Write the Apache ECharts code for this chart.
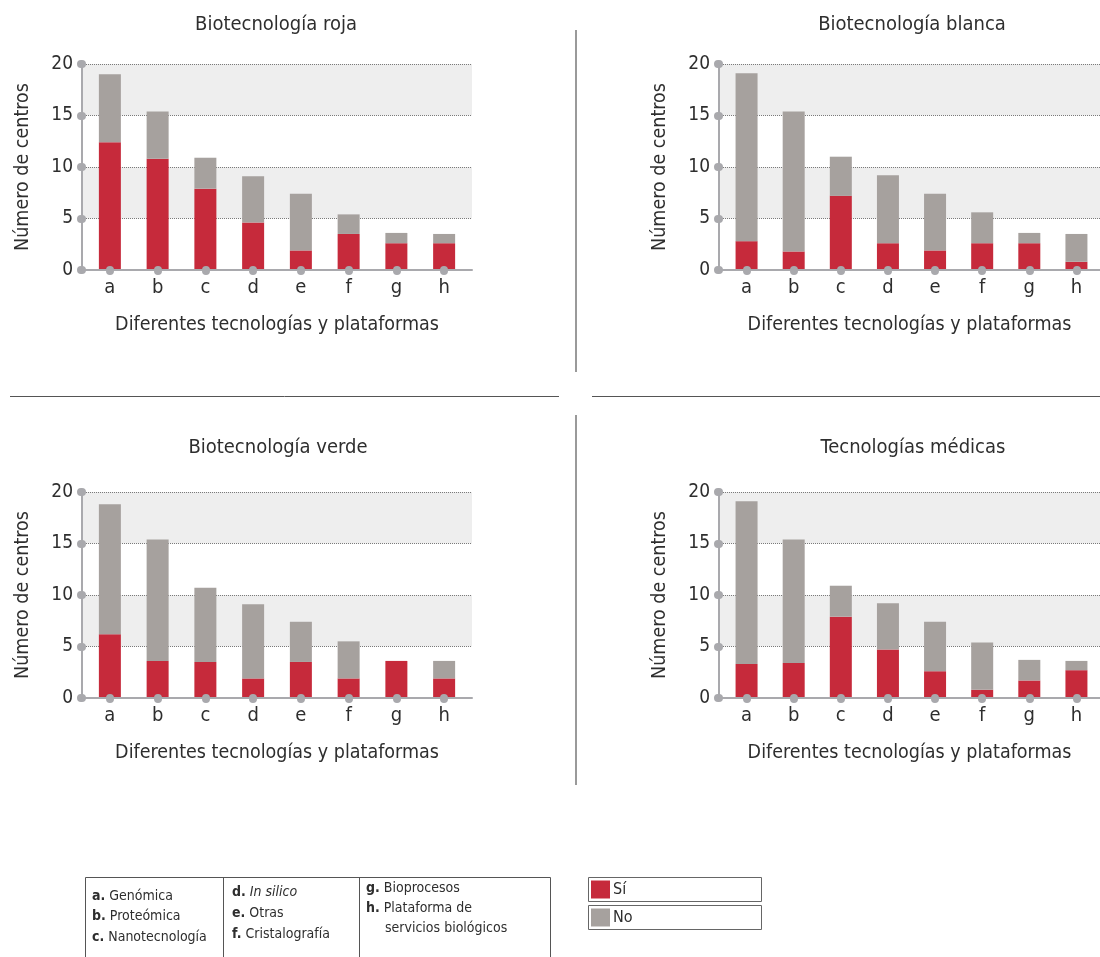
<!DOCTYPE html>
<html>
<head>
<meta charset="utf-8">
<script src="https://cdn.jsdelivr.net/npm/echarts@6/dist/echarts.min.js"></script>
<style>
  html, body { margin: 0; padding: 0; background: #ffffff; }
  #chart { width: 1100px; height: 957px; }
</style>
</head>
<body>
<div id="chart"></div>
<script>
// Technologies / platforms on the x axis
const categories = ['a', 'b', 'c', 'd', 'e', 'f', 'g', 'h'];
const techNames = ['Genómica', 'Proteómica', 'Nanotecnología', 'In silico', 'Otras',
                   'Cristalografía', 'Bioprocesos', 'Plataforma de servicios biológicos'];
const panelTitles = ['Biotecnología roja', 'Biotecnología blanca', 'Biotecnología verde', 'Tecnologías médicas'];
const seriesNames = ['Sí', 'No'];
const xAxisName = 'Diferentes tecnologías y plataformas';
const yAxisName = 'Número de centros';
const yMax = 20;
const yStep = 5;

// Number of centres per technology, split into "Sí" / "No"
const siRoja    = [12.4, 10.8, 7.9, 4.6, 1.9, 3.5, 2.6, 2.6];
const noRoja    = [6.6, 4.6, 3.0, 4.5, 5.5, 1.9, 1.0, 0.9];
const siBlanca  = [2.8, 1.8, 7.2, 2.6, 1.9, 2.6, 2.6, 0.8];
const noBlanca  = [16.3, 13.6, 3.8, 6.6, 5.5, 3.0, 1.0, 2.7];
const siVerde   = [6.2, 3.6, 3.5, 1.9, 3.5, 1.9, 3.6, 1.9];
const noVerde   = [12.6, 11.8, 7.2, 7.2, 3.9, 3.6, 0.0, 1.7];
const siMedicas = [3.3, 3.4, 7.9, 4.7, 2.6, 0.8, 1.7, 2.7];
const noMedicas = [15.8, 12.0, 3.0, 4.5, 4.8, 4.6, 2.0, 0.9];

const FONT = '"Liberation Sans Narrow", "DejaVu Sans Condensed", "Liberation Sans", sans-serif';
const TEXT = '#2e2e2e';
const AXIS = '#a9a9ad';
const RED = '#c62a3b';
const GREY = '#a6a19e';

const panels = [
  { title: panelTitles[0], si: siRoja,    no: noRoja,    left: 82,  top: 64,  titleX: 276, titleY: 15 },
  { title: panelTitles[1], si: siBlanca,  no: noBlanca,  left: 719, top: 64,  titleX: 912, titleY: 15 },
  { title: panelTitles[2], si: siVerde,   no: noVerde,   left: 82,  top: 492, titleX: 278, titleY: 438 },
  { title: panelTitles[3], si: siMedicas, no: noMedicas, left: 719, top: 492, titleX: 913, titleY: 438 }
];
const PW = 390, PH = 206, INSET = 4;

const dotTick = { show: true, length: 1, lineStyle: { color: AXIS, width: 8, cap: 'round' } };

const grid = [], xAxis = [], yAxis = [], series = [], title = [];

panels.forEach((p, i) => {
  const a = 2 * i, b = 2 * i + 1;
  // frame grid: bands, gridlines, axis lines
  grid.push({ left: p.left, top: p.top, width: PW, height: PH, containLabel: false });
  // bar grid, slightly inset so the outer bars sit clear of the axis
  grid.push({ left: p.left + INSET, top: p.top, width: PW - 2 * INSET, height: PH, containLabel: false });

  xAxis.push({
    type: 'category', gridIndex: a, data: categories, z: 5,
    axisLine: { show: true, lineStyle: { color: AXIS, width: 2 } },
    axisTick: { show: false }, axisLabel: { show: false },
    name: xAxisName, nameLocation: 'middle', nameGap: 45,
    nameTextStyle: { fontFamily: FONT, fontSize: 19.5, color: TEXT }
  });
  xAxis.push({
    type: 'category', gridIndex: b, data: categories, z: 5,
    axisLine: { show: false },
    axisTick: Object.assign({ alignWithLabel: true, interval: 0 }, dotTick),
    axisLabel: { fontFamily: FONT, fontSize: 20, color: TEXT, margin: 8, interval: 0 }
  });

  yAxis.push({
    type: 'value', gridIndex: a, min: 0, max: yMax, interval: yStep,
    axisLine: { show: true, lineStyle: { color: AXIS, width: 2 } },
    axisTick: dotTick,
    axisLabel: { fontFamily: FONT, fontSize: 19, color: TEXT, margin: 9 },
    splitLine: { show: true, lineStyle: { color: '#7a7a7a', width: 1, type: 'dotted' } },
    splitArea: { show: true, areaStyle: { color: ['rgba(255,255,255,0)', '#eeeeee'] } },
    name: yAxisName, nameLocation: 'middle', nameGap: 49,
    nameTextStyle: { fontFamily: FONT, fontSize: 19.5, color: TEXT }
  });
  yAxis.push({ type: 'value', gridIndex: b, min: 0, max: yMax, interval: yStep, show: false });

  series.push({
    name: seriesNames[0], type: 'bar', stack: 'p' + i, xAxisIndex: b, yAxisIndex: b,
    barWidth: 22, data: p.si, itemStyle: { color: RED }, z: 2
  });
  series.push({
    name: seriesNames[1], type: 'bar', stack: 'p' + i, xAxisIndex: b, yAxisIndex: b,
    barWidth: 22, data: p.no, itemStyle: { color: GREY }, z: 2
  });

  title.push({
    text: p.title, left: p.titleX, top: p.titleY, textAlign: 'center', padding: 0,
    textStyle: { fontFamily: FONT, fontSize: 20, fontWeight: 'normal', color: TEXT }
  });
});

// Key for the category letters
const KEY_FS = 14;
const keyStyle = { fontFamily: FONT, fontSize: KEY_FS, fill: TEXT };
const rich = {
  b: { fontFamily: FONT, fontSize: KEY_FS, fontWeight: 'bold', color: TEXT },
  n: { fontFamily: FONT, fontSize: KEY_FS, color: TEXT },
  i: { fontFamily: FONT, fontSize: KEY_FS, fontStyle: 'italic', color: TEXT }
};
const keyCols = [
  { x: 92,  ys: [896, 916.5, 937], idx: [0, 1, 2] },
  { x: 232, ys: [892, 913, 934],   idx: [3, 4, 5] },
  { x: 366, ys: [888, 908],        idx: [6, 7] }
];
const keyTexts = [];
keyCols.forEach(col => {
  col.idx.forEach((k, j) => {
    let name = techNames[k];
    let second = null;
    if (k === 7) {
      const cut = name.indexOf(' servicios');
      second = name.slice(cut + 1);
      name = name.slice(0, cut);
    }
    const style = k === 3 ? 'i' : 'n';
    keyTexts.push({
      type: 'text', x: col.x, y: col.ys[j],
      style: Object.assign({ text: '{b|' + categories[k] + '.} {' + style + '|' + name + '}', rich: rich,
                             verticalAlign: 'middle', align: 'left' }, keyStyle)
    });
    if (second) {
      keyTexts.push({
        type: 'text', x: col.x + 19, y: col.ys[j] + 20,
        style: Object.assign({ text: second, verticalAlign: 'middle', align: 'left' }, keyStyle)
      });
    }
  });
});

const sepLine = (x1, y1, x2, y2, color, w) => ({
  type: 'line', shape: { x1, y1, x2, y2 }, style: { stroke: color, lineWidth: w }, silent: true
});

const graphic = [
  // panel separators
  sepLine(576, 30, 576, 372, '#9a9a9a', 2),
  sepLine(576, 415, 576, 785, '#9a9a9a', 2),
  sepLine(10, 396.5, 559, 396.5, '#555555', 1),
  sepLine(592, 396.5, 1100, 396.5, '#555555', 1),
  // key table
  { type: 'rect', shape: { x: 85.5, y: 877.5, width: 465, height: 100 },
    style: { fill: 'none', stroke: '#555555', lineWidth: 1 } },
  sepLine(223.5, 877.5, 223.5, 957, '#555555', 1),
  sepLine(359.5, 877.5, 359.5, 957, '#555555', 1),
  ...keyTexts
];

// Sí / No legend boxes
[RED, GREY].forEach((c, k) => {
  const y0 = 877.5 + k * 28;
  graphic.push({ type: 'rect', shape: { x: 588.5, y: y0, width: 173, height: 24 },
                 style: { fill: '#ffffff', stroke: '#666666', lineWidth: 1 } });
  graphic.push({ type: 'rect', shape: { x: 591, y: y0 + 3, width: 19, height: 18 }, style: { fill: c } });
  graphic.push({ type: 'text', x: 613, y: y0 + 12.5,
                 style: { text: seriesNames[k], fontFamily: FONT, fontSize: 16, fill: TEXT,
                          verticalAlign: 'middle', align: 'left' } });
});

const chart = echarts.init(document.getElementById('chart'), null, { renderer: 'canvas' });
chart.setOption({
  backgroundColor: '#ffffff',
  animation: false,
  textStyle: { fontFamily: FONT },
  title, grid, xAxis, yAxis, series, graphic
});
</script>
</body>
</html>
